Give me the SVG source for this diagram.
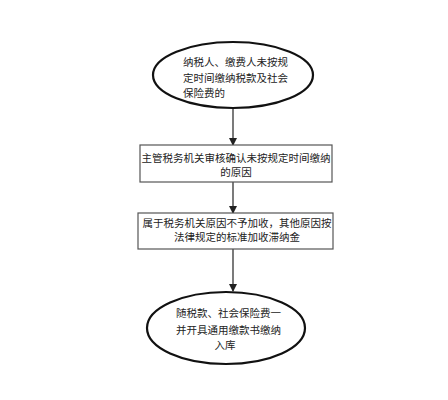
<svg xmlns="http://www.w3.org/2000/svg" width="448" height="400" viewBox="0 0 448 400">
<defs>
<marker id="arr" markerWidth="8" markerHeight="8" refX="7" refY="4" orient="auto" markerUnits="userSpaceOnUse">
<path d="M0,0 L8,4 L0,8 Z" fill="#222"/>
</marker>
<style>
.ell{fill:#fff;stroke:#111;stroke-width:2.2}
.box{fill:#fff;stroke:#555;stroke-width:1.2}
.t{font-family:"Noto Sans CJK SC","Liberation Sans",sans-serif;font-size:10.5px;fill:#222}
.c{text-anchor:middle}
.ln{stroke:#222;stroke-width:1.2;fill:none}
</style>
</defs>
<rect width="448" height="400" fill="#fff"/>
<g id="connectors">
<line class="ln" x1="233" y1="108" x2="233" y2="145" marker-end="url(#arr)"/>
<line class="ln" x1="233" y1="182" x2="233" y2="213" marker-end="url(#arr)"/>
<line class="ln" x1="233" y1="249" x2="233" y2="291" marker-end="url(#arr)"/>
</g>
<g id="n1">
<ellipse class="ell" cx="233" cy="75" rx="80" ry="33"/>
<text class="t" x="183" y="66">纳税人、缴费人未按规</text>
<text class="t" x="183" y="82">定时间缴纳税款及社会</text>
<text class="t" x="183" y="97">保险费的</text>
</g>
<g id="n2">
<rect class="box" x="140" y="145" width="192" height="37"/>
<text class="t c" x="236" y="162">主管税务机关审核确认未按规定时间缴纳</text>
<text class="t c" x="236" y="176">的原因</text>
</g>
<g id="n3">
<rect class="box" x="138" y="213" width="195" height="36"/>
<text class="t c" x="237" y="227">属于税务机关原因不予加收，其他原因按</text>
<text class="t c" x="237" y="241">法律规定的标准加收滞纳金</text>
</g>
<g id="n4">
<ellipse class="ell" cx="226" cy="328" rx="79" ry="36"/>
<text class="t" x="176" y="317">随税款、社会保险费一</text>
<text class="t" x="176" y="334">并开具通用缴款书缴纳</text>
<text class="t c" x="225" y="349">入库</text>
</g>
</svg>
